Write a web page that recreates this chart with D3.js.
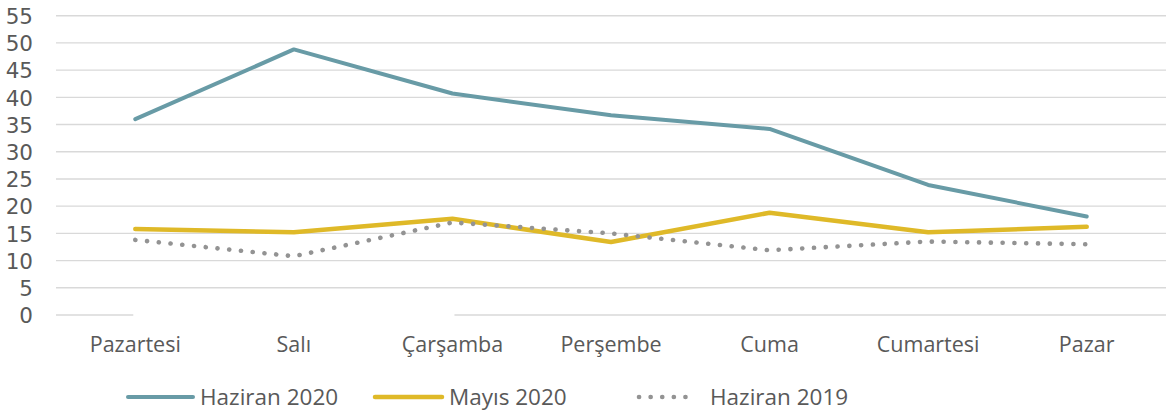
<html>
<head>
    <script type="text/javascript" src="https://d3js.org/d3.v7.min.js"></script>
    <style type="text/css">
        body { margin: 0; background: #fff; }
        svg text {
            font-family: 'Open Sans', 'DejaVu Sans', sans-serif;
            fill: #595959;
        }
        svg .y-axis text {
            font-family: 'DejaVu Sans', sans-serif;
        }
        .grid line { stroke: #d9d9d9; stroke-width: 1.4; }
    </style>
</head>
<body>
    <div id="chart"></div>
    <script type="text/javascript">
    var days = ['Pazartesi', 'Salı', 'Çarşamba', 'Perşembe', 'Cuma', 'Cumartesi', 'Pazar'];
    var haziran2020 = [36.0, 48.8, 40.7, 36.7, 34.2, 23.9, 18.1];
    var mayis2020 = [15.8, 15.2, 17.7, 13.4, 18.8, 15.2, 16.2];
    var haziran2019 = [13.8, 10.8, 17.0, 15.0, 11.9, 13.5, 13.0];
    var yTicks = [0, 5, 10, 15, 20, 25, 30, 35, 40, 45, 50, 55];

    var series = [
        { name: 'Haziran 2020', values: haziran2020, color: '#689ba6', width: 4, dash: null },
        { name: 'Mayıs 2020', values: mayis2020, color: '#dfb928', width: 4.5, dash: null },
        { name: 'Haziran 2019', values: haziran2019, color: '#939393', width: 4.6, dash: '0.1 11.7' }
    ];

    var WIDTH = 1171, HEIGHT = 417;
    var PLOT_LEFT = 56, PLOT_RIGHT = 1166, PLOT_TOP = 15.7, PLOT_BOTTOM = 315;

    var svg = d3.select('#chart').append('svg')
        .attr('width', WIDTH)
        .attr('height', HEIGHT);

    var x = d3.scaleBand().domain(days).range([PLOT_LEFT, PLOT_RIGHT]);
    var y = d3.scaleLinear().domain([0, 55]).range([PLOT_BOTTOM, PLOT_TOP]);
    function cx(d) { return x(d) + x.bandwidth() / 2; }

    // gridlines (0 line is drawn separately, it has a gap in the original)
    var grid = svg.append('g').attr('class', 'grid');
    grid.selectAll('line.g')
        .data(yTicks.filter(function(t) { return t > 0; }))
        .enter().append('line')
        .attr('x1', PLOT_LEFT).attr('x2', PLOT_RIGHT)
        .attr('y1', function(d) { return y(d); })
        .attr('y2', function(d) { return y(d); });
    grid.append('line')
        .attr('x1', PLOT_LEFT).attr('x2', cx(days[0]) - 2)
        .attr('y1', y(0)).attr('y2', y(0));
    grid.append('line')
        .attr('x1', cx(days[2]) + 2).attr('x2', PLOT_RIGHT)
        .attr('y1', y(0)).attr('y2', y(0));

    // y axis labels
    var yAxis = svg.append('g')
        .attr('class', 'y-axis')
        .attr('transform', 'translate(33,0)')
        .call(d3.axisLeft(y).tickValues(yTicks).tickSize(0).tickPadding(0));
    yAxis.select('.domain').remove();
    yAxis.selectAll('text').style('font-size', '21.5px').attr('dy', '0.36em');

    // x axis labels
    var xAxis = svg.append('g')
        .attr('transform', 'translate(0,' + PLOT_BOTTOM + ')')
        .call(d3.axisBottom(x).tickSize(0).tickPadding(22));
    xAxis.select('.domain').remove();
    xAxis.selectAll('text').style('font-size', '21.5px');

    // lines
    var line = d3.line()
        .x(function(d, i) { return cx(days[i]); })
        .y(function(d) { return y(d); });

    svg.selectAll('path.series')
        .data(series)
        .enter().append('path')
        .attr('class', 'series')
        .attr('d', function(s) { return line(s.values); })
        .attr('fill', 'none')
        .attr('stroke', function(s) { return s.color; })
        .attr('stroke-width', function(s) { return s.width; })
        .attr('stroke-dasharray', function(s) { return s.dash; })
        .attr('stroke-linecap', 'round')
        .attr('stroke-linejoin', 'round');

    // legend
    var LEGEND_Y = 397;
    var legendX = [128, 375, 639];
    var legendLen = [65, 67, 58];
    var legend = svg.selectAll('g.legend')
        .data(series)
        .enter().append('g')
        .attr('class', 'legend')
        .attr('transform', function(s, i) { return 'translate(' + legendX[i] + ',' + LEGEND_Y + ')'; });
    legend.append('line')
        .attr('x1', 0)
        .attr('x2', function(s, i) { return legendLen[i]; })
        .attr('stroke', function(s) { return s.color; })
        .attr('stroke-width', function(s) { return s.width; })
        .attr('stroke-dasharray', function(s) { return s.dash ? '0.1 11.5' : null; })
        .attr('stroke-linecap', 'round');
    legend.append('text')
        .attr('x', function(s, i) { return legendLen[i] + (s.dash ? 13 : 7); })
        .attr('dy', '0.35em')
        .style('font-size', '22.5px')
        .text(function(s) { return s.name; });
    </script>
</body>
</html>
